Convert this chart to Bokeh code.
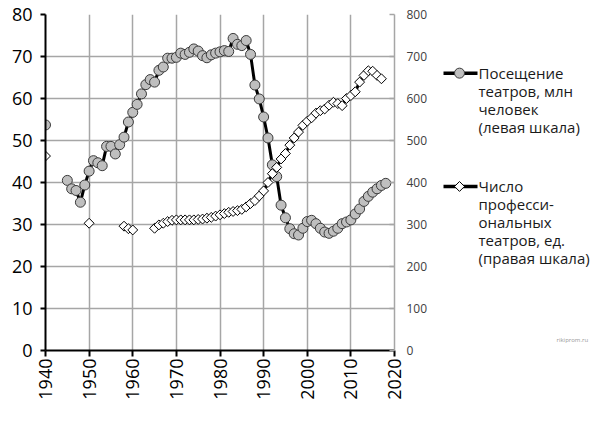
import math
import numpy as np
from bokeh.plotting import figure
from bokeh.models import Range1d, LinearAxis, FixedTicker
from bokeh.layouts import row
from bokeh.core.properties import value
from bokeh.embed import file_html
from bokeh.resources import INLINE

FONT = "Open Sans"

# --- data ---------------------------------------------------------------
att_years = [1940, 1945, 1946, 1947, 1948, 1949, 1950, 1951, 1952, 1953, 1954,
             1955, 1956, 1957, 1958, 1959, 1960, 1961, 1962, 1963, 1964, 1965,
             1966, 1967, 1968, 1969, 1970, 1971, 1972, 1973, 1974, 1975, 1976,
             1977, 1978, 1979, 1980, 1981, 1982, 1983, 1984, 1985, 1986, 1987,
             1988, 1989, 1990, 1991, 1992, 1993, 1994, 1995, 1996, 1997, 1998,
             1999, 2000, 2001, 2002, 2003, 2004, 2005, 2006, 2007, 2008, 2009,
             2010, 2011, 2012, 2013, 2014, 2015, 2016, 2017, 2018]
att_values = [53.7, 40.5, 38.5, 38.1, 35.3, 39.4, 42.7, 45.2, 44.7, 44.0, 48.6,
              48.6, 46.8, 49.0, 50.8, 54.4, 56.7, 58.6, 61.1, 63.3, 64.5, 63.9,
              66.7, 67.5, 69.6, 69.6, 69.8, 70.8, 70.5, 71.0, 71.8, 71.3, 70.2,
              69.7, 70.4, 70.8, 71.1, 71.4, 71.2, 74.3, 72.9, 72.6, 73.8, 70.5,
              63.2, 59.9, 55.6, 50.6, 44.2, 41.4, 34.6, 31.6, 29.0, 27.8, 27.5,
              29.1, 30.7, 31.0, 30.2, 29.1, 28.2, 27.9, 28.4, 29.1, 30.2, 30.6,
              31.1, 32.5, 33.7, 35.5, 36.7, 37.7, 38.5, 39.3, 39.8]

thr_years = [1940, 1950, 1958, 1959, 1960, 1965, 1966, 1967, 1968, 1969, 1970,
             1971, 1972, 1973, 1974, 1975, 1976, 1977, 1978, 1979, 1980, 1981,
             1982, 1983, 1984, 1985, 1986, 1987, 1988, 1989, 1990, 1991, 1992,
             1993, 1994, 1995, 1996, 1997, 1998, 1999, 2000, 2001, 2002, 2003,
             2004, 2005, 2006, 2007, 2008, 2009, 2010, 2011, 2012, 2013, 2014,
             2015, 2016, 2017]
thr_values = [463, 303, 296, 290, 287, 291, 299, 303, 307, 310, 311,
              311, 311, 311, 311, 312, 313, 315, 317, 320, 323, 326,
              329, 331, 333, 336, 342, 350, 357, 368, 380, 400, 421,
              436, 456, 469, 489, 506, 520, 536, 546, 554, 565, 571,
              575, 584, 591, 588, 583, 600, 607, 616, 639, 655, 666,
              665, 655, 647]

x_ticks = [1940, 1950, 1960, 1970, 1980, 1990, 2000, 2010, 2020]
left_ticks = [0, 10, 20, 30, 40, 50, 60, 70, 80]
right_ticks = [0, 100, 200, 300, 400, 500, 600, 700, 800]

legend_att = ["Посещение", "театров, млн", "человек", "(левая шкала)"]
legend_thr = ["Число", "професси-", "ональных", "театров, ед.", "(правая шкала)"]


def with_gaps(xs, ys):
    ox, oy = [], []
    for i, (x, y) in enumerate(zip(xs, ys)):
        if i > 0 and x - xs[i - 1] > 1:
            ox.append(np.nan)
            oy.append(np.nan)
        ox.append(x)
        oy.append(y)
    return ox, oy


# --- main chart ---------------------------------------------------------
p = figure(width=438, height=424, x_range=Range1d(1940, 2020),
           y_range=Range1d(0, 80), output_backend="svg", toolbar_location=None,
           min_border_left=45, min_border_right=44, min_border_top=14,
           min_border_bottom=74)
p.extra_y_ranges = {"right": Range1d(0, 800)}
p.outline_line_color = None
p.background_fill_color = "white"

GRID = "#a6a6a6"
p.xgrid.ticker = FixedTicker(ticks=x_ticks)
p.ygrid.ticker = FixedTicker(ticks=left_ticks)
p.grid.grid_line_color = GRID
p.grid.grid_line_width = 1.5

xa = p.xaxis[0]
xa.ticker = FixedTicker(ticks=x_ticks)
xa.axis_line_color = "black"
xa.axis_line_width = 2
xa.major_tick_line_color = "black"
xa.major_tick_line_width = 2
xa.major_tick_out = 6
xa.major_tick_in = 0
xa.minor_tick_line_color = None
xa.major_label_orientation = math.pi / 2
xa.major_label_standoff = 2
xa.major_label_text_font = FONT
xa.major_label_text_font_size = "18px"
xa.major_label_text_color = "black"

ya = p.yaxis[0]
ya.ticker = FixedTicker(ticks=left_ticks)
ya.axis_line_color = "black"
ya.axis_line_width = 2
ya.major_tick_line_color = "black"
ya.major_tick_line_width = 2
ya.major_tick_out = 5
ya.major_tick_in = 0
ya.minor_tick_line_color = None
ya.major_label_standoff = 8
ya.major_label_text_font = FONT
ya.major_label_text_font_size = "18px"
ya.major_label_text_color = "black"

ra = LinearAxis(y_range_name="right", ticker=FixedTicker(ticks=right_ticks))
ra.axis_line_color = GRID
ra.axis_line_width = 1.5
ra.major_tick_line_color = GRID
ra.major_tick_line_width = 1.5
ra.major_tick_in = 5
ra.major_tick_out = 0
ra.minor_tick_line_color = None
ra.major_label_standoff = 12
ra.major_label_text_font = FONT
ra.major_label_text_font_size = "12px"
ra.major_label_text_color = "#404040"
p.add_layout(ra, "right")

# attendance series (left scale)
ax_, ay_ = with_gaps(att_years, att_values)
p.line(ax_, ay_, line_color="black", line_width=3)
p.scatter(att_years, att_values, marker="circle", size=10,
          fill_color="#bfbfbf", line_color="#3a3a3a", line_width=1)

# theatres series (right scale)
tx_, ty_ = with_gaps(thr_years, thr_values)
p.line(tx_, ty_, line_color="black", line_width=3, y_range_name="right")
p.scatter(thr_years, thr_values, marker="square", angle=math.pi / 4, size=7,
          fill_color="white", line_color="black", line_width=1,
          y_range_name="right")

# --- legend panel -------------------------------------------------------
lg = figure(width=162, height=424, x_range=Range1d(0, 162),
            y_range=Range1d(424, 0), output_backend="svg",
            toolbar_location=None, x_axis_location=None,
            y_axis_location=None, min_border=0)
lg.grid.visible = False
lg.outline_line_color = None

LH = 22.6
y1 = 74
y2 = 217
lg.line([5, 39], [y1, y1], line_color="black", line_width=3.5)
lg.scatter([21], [y1], marker="circle", size=10, fill_color="#bfbfbf",
           line_color="#3a3a3a", line_width=1)
lg.line([5, 39], [y2, y2], line_color="black", line_width=3.5)
lg.scatter([21], [y2], marker="square", angle=math.pi / 4, size=7,
           fill_color="white", line_color="black", line_width=1)

lg.text(x=[40] * len(legend_att), y=[y1 + LH * i for i in range(len(legend_att))],
        text=legend_att, text_font=value(FONT), text_font_size="15px",
        text_baseline="middle", text_color="#1a1a1a")
lg.text(x=[40] * len(legend_thr), y=[y2 + LH * i for i in range(len(legend_thr))],
        text=legend_thr, text_font=value(FONT), text_font_size="15px",
        text_baseline="middle", text_color="#1a1a1a")
lg.text(x=[118], y=[411], text=["rikiprom.ru"], text_font=value(FONT),
        text_font_size="6px", text_baseline="middle", text_color="#999999")

layout = row(p, lg, spacing=0)
open("out.html", "w").write(file_html(layout, INLINE))
